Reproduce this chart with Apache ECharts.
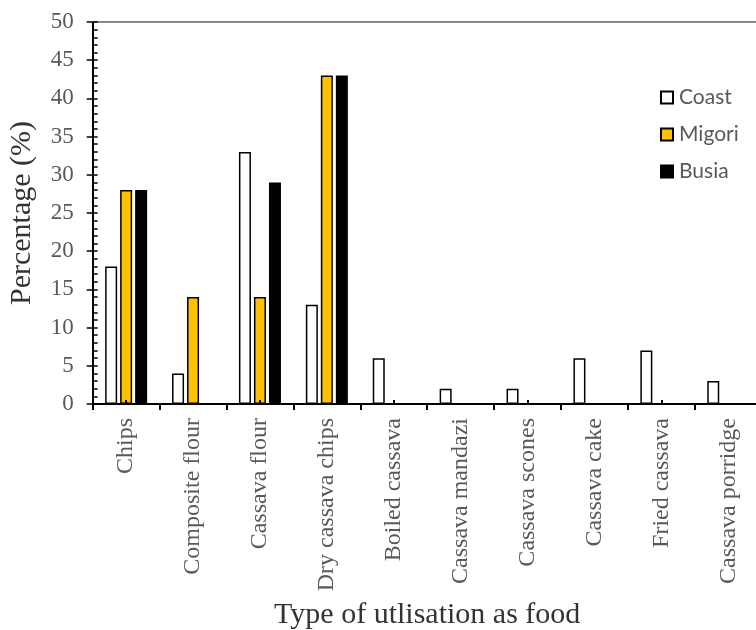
<!DOCTYPE html>
<html>
<head>
<meta charset="utf-8">
<script src="https://cdn.jsdelivr.net/npm/echarts@6/dist/echarts.min.js"></script>
<style>html,body{margin:0;padding:0;background:#fff;}#c{width:756px;height:630px;}</style>
</head>
<body>
<div id="c"></div>
<script>
var categories = ['Chips','Composite flour','Cassava flour','Dry cassava chips','Boiled cassava','Cassava mandazi','Cassava scones','Cassava cake','Fried cassava','Cassava porridge'];
var coast  = [18, 4, 33, 13, 6, 2, 2, 6, 7, 3];
var migori = [28, 14, 14, 43, 0, 0, 0, 0, 0, 0];
var busia  = [28, 0, 29, 43, 0, 0, 0, 0, 0, 0];
var yTicks = [0, 5, 10, 15, 20, 25, 30, 35, 40, 45, 50];

var serif = 'Liberation Serif';
var chart = echarts.init(document.getElementById('c'));
var barBorder = {borderColor:'#000', borderWidth:1.5};
chart.setOption({
  animation:false,
  backgroundColor:'#fff',
  grid:{left:92.7, top:22, width:669, height:382, containLabel:false, outerBoundsMode:'none'},
  legend:{
    orient:'vertical', left:655, top:82, itemWidth:12, itemHeight:12, itemGap:16,
    icon:'rect',
    textStyle:{fontFamily:'Lato', fontSize:21, color:'#595959', padding:[0,0,0,1]},
    data:['Coast','Migori','Busia']
  },
  xAxis:[{
    type:'category', data:categories, position:'bottom',
    axisLine:{lineStyle:{color:'#000', width:2}},
    axisTick:{show:true, inside:false, length:6, lineStyle:{color:'#000', width:2}},
    axisLabel:{rotate:90, interval:0, margin:14, fontFamily:serif, fontSize:24, color:'#595959'},
    name:'Type of utlisation as food', nameLocation:'middle', nameGap:196,
    nameTextStyle:{fontFamily:serif, fontSize:30, color:'#333'}
  },{
    type:'category', data:categories, position:'bottom', z:5,
    axisLine:{show:false},
    axisTick:{show:true, inside:true, alignWithLabel:true, length:4, lineStyle:{color:'#000', width:2}},
    axisLabel:{show:false}
  },{
    type:'category', data:categories, position:'top',
    axisLine:{show:true, lineStyle:{color:'#888', width:2}},
    axisTick:{show:false}, axisLabel:{show:false}
  }],
  yAxis:[{
    type:'value', min:0, max:50, interval:5,
    axisLine:{show:true, lineStyle:{color:'#000', width:2}},
    axisTick:{show:true, inside:false, length:6, lineStyle:{color:'#000', width:1.5}},
    splitLine:{show:false},
    axisLabel:{margin:19, fontFamily:serif, fontSize:23, color:'#595959',
      formatter:function(v){return yTicks.indexOf(v)>=0 ? String(v) : '';}},
    name:'Percentage (%)', nameLocation:'middle', nameGap:56,
    nameTextStyle:{fontFamily:serif, fontSize:30, color:'#333'}
  },{
    type:'value', min:0, max:50, interval:1, position:'left',
    axisLine:{show:false},
    axisTick:{show:true, inside:true, length:5, lineStyle:{color:'#000', width:1.5}},
    splitLine:{show:false}, axisLabel:{show:false}
  }],
  series:[
    {name:'Coast', type:'bar', data:coast, barWidth:12, barGap:'25%',
     itemStyle:Object.assign({color:'#fff'}, barBorder)},
    {name:'Migori', type:'bar', data:migori, barWidth:12, barGap:'25%',
     itemStyle:Object.assign({color:'#FFC000'}, barBorder)},
    {name:'Busia', type:'bar', data:busia, barWidth:12, barGap:'25%',
     itemStyle:Object.assign({color:'#000'}, barBorder)}
  ]
});
</script>
</body>
</html>
